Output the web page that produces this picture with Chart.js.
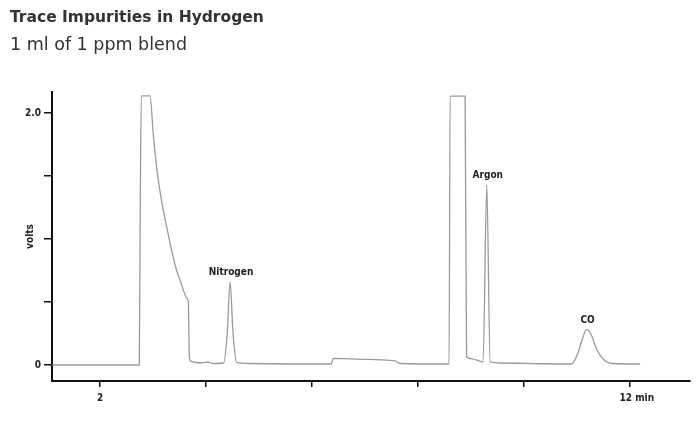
<!DOCTYPE html>
<html>
<head>
<meta charset="utf-8">
<script src="https://cdn.jsdelivr.net/npm/chart.js@4/dist/chart.umd.min.js"></script>
<style>
  html, body { margin: 0; padding: 0; background: #fff; }
  #wrap { position: relative; width: 700px; height: 422px; overflow: hidden; }
  #title { position: absolute; left: 10px; top: 8px; font: bold 15.5px "DejaVu Sans", sans-serif; color: #333; }
  #subtitle { position: absolute; left: 10px; top: 34px; font: 17.5px "DejaVu Sans", sans-serif; color: #333; }
  #cv { position: absolute; left: 0; top: 0; }
</style>
</head>
<body>
<div id="wrap">
  <canvas id="cv" width="700" height="422"></canvas>
  <div id="title">Trace Impurities in Hydrogen</div>
  <div id="subtitle">1 ml of 1 ppm blend</div>
</div>
<script>
// Retention time (min) and detector signal (volts)
const times = [
  1.10, 2.74, 2.76, 2.78, 2.943, 3.006, 3.070, 3.164, 3.289, 3.415, 3.542, 3.636, 3.666,
  3.685, 3.73, 3.89, 4.04, 4.12, 4.33, 4.40, 4.453, 4.51, 4.58, 4.83, 5.77, 6.36, 6.40,
  7.09, 7.566, 7.66, 8.566, 8.585, 8.604, 8.887, 8.915, 9.02, 9.19, 9.226, 9.296, 9.36,
  9.547, 10.3, 10.77, 10.9, 11.02, 11.11, 11.18, 11.26, 11.377, 11.51, 11.66, 12.19
];
const volts = [
  0.0, 0.0, 1.33, 2.137, 2.137, 1.825, 1.563, 1.296, 1.032, 0.794, 0.635, 0.532, 0.502,
  0.056, 0.026, 0.016, 0.024, 0.012, 0.016, 0.25, 0.66, 0.25, 0.02, 0.012, 0.008, 0.008, 0.052,
  0.044, 0.032, 0.012, 0.008, 0.008, 2.135, 2.135, 0.063, 0.048, 0.026, 0.024, 1.43, 0.024,
  0.016, 0.01, 0.008, 0.01, 0.10, 0.22, 0.283, 0.246, 0.119, 0.04, 0.012, 0.008
];
const xTicks = [2, 4, 6, 8, 10, 12];
const xTickLabels = ['2', '', '', '', '', '\u2002\u2002\u200212 min'];
const yTicks = [0, 0.5, 1.0, 1.5, 2.0];
const yTickLabels = ['0', '', '', '', '2.0'];
const peakNames = ['Nitrogen', 'Argon', 'CO'];
const peakTimes = [4.453, 9.296, 11.18];
const peakVolts = [0.66, 1.43, 0.283];

const points = times.map((t, i) => ({ x: t, y: volts[i] }));
const FONT = '"DejaVu Sans Condensed", "DejaVu Sans", sans-serif';

const peakLabelPlugin = {
  id: 'peakLabels',
  afterDatasetsDraw(chart) {
    const { ctx, scales } = chart;
    ctx.save();
    ctx.font = 'bold 10px ' + FONT;
    ctx.fillStyle = '#222';
    ctx.textAlign = 'center';
    ctx.textBaseline = 'bottom';
    peakNames.forEach((n, i) => {
      const px = scales.x.getPixelForValue(peakTimes[i]);
      const py = scales.y.getPixelForValue(peakVolts[i]);
      ctx.fillText(n, px + 1, py - 4);
    });
    ctx.restore();
  }
};

new Chart(document.getElementById('cv'), {
  type: 'line',
  data: {
    datasets: [{
      data: points,
      borderColor: '#9a9a9a',
      borderWidth: 1.3,
      pointRadius: 0,
      cubicInterpolationMode: 'monotone',
      fill: false
    }]
  },
  options: {
    responsive: false,
    animation: false,
    layout: { padding: { top: 92, right: 10, left: 24, bottom: 0 } },
    plugins: { legend: { display: false }, tooltip: { enabled: false }, title: { display: false } },
    scales: {
      x: {
        type: 'linear',
        min: 1.094,
        max: 13.13,
        afterBuildTicks(s) { s.ticks = xTicks.map(v => ({ value: v })); },
        afterFit(s) { s.height = 41; },
        border: { display: true, color: '#111', width: 2 },
        grid: { display: true, drawOnChartArea: false, drawTicks: true, tickLength: 6, color: '#111', lineWidth: 1.5 },
        ticks: {
          autoSkip: false,
          maxRotation: 0,
          padding: 5,
          color: '#222',
          font: { family: FONT, size: 10, weight: 'bold' },
          callback(v) { const i = xTicks.indexOf(v); return i >= 0 ? xTickLabels[i] : ''; }
        }
      },
      y: {
        type: 'linear',
        min: -0.127,
        max: 2.167,
        afterBuildTicks(s) { s.ticks = yTicks.map(v => ({ value: v })); },
        afterFit(s) { s.width = 28; },
        border: { display: true, color: '#111', width: 2 },
        grid: { display: true, drawOnChartArea: false, drawTicks: true, tickLength: 8, color: '#111', lineWidth: 1.5 },
        title: {
          display: true,
          text: 'volts',
          color: '#222',
          padding: { top: 0, bottom: 0 },
          font: { family: FONT, size: 10, weight: 'bold' }
        },
        ticks: {
          autoSkip: false,
          padding: 3,
          color: '#222',
          font: { family: FONT, size: 10, weight: 'bold' },
          callback(v) { const i = yTicks.indexOf(v); return i >= 0 ? yTickLabels[i] : ''; }
        }
      }
    }
  },
  plugins: [peakLabelPlugin]
});
</script>
</body>
</html>
